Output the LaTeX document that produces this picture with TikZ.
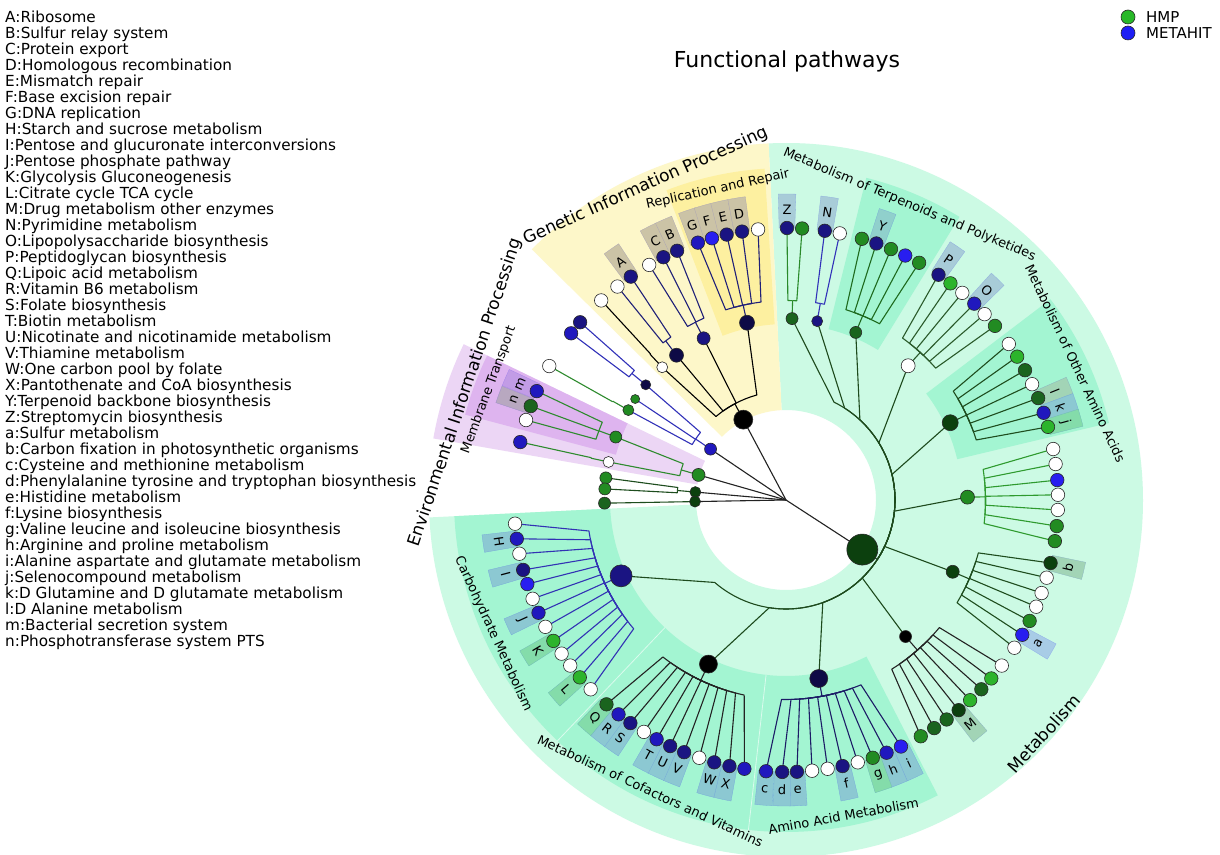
\documentclass[tikz,border=0pt]{standalone}
\usepackage{fontspec}
\setmainfont{DejaVu Sans}
\definecolor{g1}{RGB}{44,180,44}
\definecolor{g2}{RGB}{34,139,34}
\definecolor{g3}{RGB}{26,100,30}
\definecolor{g4}{RGB}{12,64,14}
\definecolor{b1}{RGB}{40,30,240}
\definecolor{b2}{RGB}{32,24,190}
\definecolor{b3}{RGB}{26,20,130}
\definecolor{b4}{RGB}{14,10,70}
\definecolor{ndline}{RGB}{40,40,40}
\definecolor{cMet}{RGB}{204,250,228}
\definecolor{cSub}{RGB}{163,245,210}
\definecolor{cGIP}{RGB}{253,247,201}
\definecolor{cRR}{RGB}{253,240,160}
\definecolor{cEIP}{RGB}{236,214,245}
\definecolor{cMT}{RGB}{222,180,239}
\definecolor{bxG}{RGB}{203,195,166}
\definecolor{bxB}{RGB}{168,204,216}
\definecolor{bxBd}{RGB}{140,200,210}
\definecolor{bxGr}{RGB}{132,220,170}
\definecolor{bxDg}{RGB}{162,212,182}
\definecolor{bxM}{RGB}{194,156,230}
\definecolor{bxN}{RGB}{184,168,192}
\definecolor{bxY}{RGB}{144,208,204}
\definecolor{bxA}{RGB}{168,204,230}
\definecolor{lRoot}{RGB}{35,35,35}
\definecolor{lNavy}{RGB}{32,32,120}
\definecolor{lB1}{RGB}{50,50,185}
\definecolor{lEIP}{RGB}{46,139,46}
\definecolor{lDG}{RGB}{30,77,30}
\definecolor{lMet}{RGB}{29,74,29}
\definecolor{lZp}{RGB}{42,138,42}
\definecolor{lYp}{RGB}{30,106,30}
\definecolor{lWp}{RGB}{42,90,42}
\definecolor{lG7}{RGB}{46,154,46}
\definecolor{lAA}{RGB}{28,28,102}
\definecolor{lCarb}{RGB}{50,50,180}
\definecolor{hmp}{RGB}{40,184,40}
\definecolor{metahit}{RGB}{30,30,245}
\newcommand\subf{\fontsize{13}{13}\selectfont}
\newcommand\clsf{\fontsize{17}{17}\selectfont}
\newcommand\lblf{\fontsize{13}{13}\selectfont}
\newcommand\sect[5]{\fill[#1] (#2:#4) arc[start angle=#2,end angle=#3,radius=#4] -- (#3:#5) arc[start angle=#3,end angle=#2,radius=#5] -- cycle;}
\newcommand\brs[5]{%
  \pgfmathsetmacro\rbb{#3+18}%
  \draw[br,#1] (#2:#3) -- (#2:\rbb);%
  \foreach \ca in {#5}{%
    \pgfmathsetmacro\cb{#2+0.8*(\ca-(#2))}%
    \draw[br,#1] (#2:\rbb) arc[start angle=#2, end angle=\cb, radius=\rbb] -- (\ca:#4);%
  }%
}
\newcommand\slab[5]{\pgfmathsetmacro\labrot{ifthenelse(#1>0,#1-90,#1+90)}%
  \node[font=#3, rotate=\labrot, inner sep=0pt] (#5) at (#1:#2) {#4};}
\begin{document}
\begin{tikzpicture}[x=1pt,y=1pt,
  nd/.style={circle, draw=ndline, line width=0.6pt, inner sep=0pt},
  br/.style={line width=1.1pt, line join=round}]
\useasboundingbox (0,0) rectangle (1220,854);
\fill[white] (0,0) rectangle (1220,854);
% left legend
\foreach \t [count=\i] in {A:Ribosome,B:Sulfur relay system,C:Protein export,D:Homologous recombination,E:Mismatch repair,F:Base excision repair,G:DNA replication,H:Starch and sucrose metabolism,I:Pentose and glucuronate interconversions,J:Pentose phosphate pathway,K:Glycolysis Gluconeogenesis,L:Citrate cycle TCA cycle,M:Drug metabolism other enzymes,N:Pyrimidine metabolism,O:Lipopolysaccharide biosynthesis,P:Peptidoglycan biosynthesis,Q:Lipoic acid metabolism,R:Vitamin B6 metabolism,S:Folate biosynthesis,T:Biotin metabolism,U:Nicotinate and nicotinamide metabolism,V:Thiamine metabolism,W:One carbon pool by folate,X:Pantothenate and CoA biosynthesis,Y:Terpenoid backbone biosynthesis,Z:Streptomycin biosynthesis,a:Sulfur metabolism,b:Carbon fixation in photosynthetic organisms,c:Cysteine and methionine metabolism,d:Phenylalanine tyrosine and tryptophan biosynthesis,e:Histidine metabolism,f:Lysine biosynthesis,g:Valine leucine and isoleucine biosynthesis,h:Arginine and proline metabolism,i:Alanine aspartate and glutamate metabolism,j:Selenocompound metabolism,k:D Glutamine and D glutamate metabolism,l:D Alanine metabolism,m:Bacterial secretion system,n:Phosphotransferase system PTS}
  {\node[anchor=base west, inner sep=0pt, font=\fontsize{15.25}{16}\selectfont] (leg\i) at (5,{831.6-16*(\i-1)}) {\t};}
% right legend
\node[nd, minimum size=14pt, fill=hmp] (lgh) at (1128,837) {};
\node[nd, minimum size=14pt, fill=metahit] (lgm) at (1128,821) {};
\node[anchor=base west, inner sep=0pt, font=\fontsize{15}{15}\selectfont] (lgth) at (1146,831.5) {HMP};
\node[anchor=base west, inner sep=0pt, font=\fontsize{15}{15}\selectfont] (lgtm) at (1146,815.5) {METAHIT};
% title
\node[anchor=base, inner sep=0pt, font=\fontsize{22}{22}\selectfont] (title) at (787,786) {Functional pathways};
\begin{scope}[shift={(786,354)}]
% class shading
\sect{cMet}{-177.2}{92.8}{90}{357}
\sect{cGIP}{92.8}{135.4}{90}{357}
\sect{cEIP}{154.2}{170.1}{90}{358}
% subclass shading
\sect{cRR}{93.7}{111.1}{176}{332}
\sect{cMT}{154.2}{165.1}{176}{332}
\sect{cSub}{58.5}{76}{176}{332}
\sect{cSub}{13.4}{37.2}{176}{332}
\sect{cSub}{-96.5}{-62.8}{176}{332}
\sect{cSub}{-133.5}{-96.5}{176}{332}
\sect{cSub}{-177.2}{-133.5}{176}{332}
\draw[white!60!cSub, line width=0.8pt] (-96.5:176) -- (-96.5:332) (-133.5:176) -- (-133.5:332);
% leaf label boxes
\foreach \a/\c in {124.8/bxG,116.8/bxG,113.6/bxG,108.9/bxG,105.8/bxG,102.6/bxG,99.3/bxG,156.4/bxM,159.8/bxN,89.8/bxB,81.8/bxB,70.6/bxY,55.9/bxB,46.2/bxB,22/bxDg,18.7/bxBd,15.6/bxGr,-13.4/bxDg,-29.7/bxA,-50.6/bxDg,-65/bxBd,-68.3/bxBd,-71.4/bxGr,-78/bxBd,-87.7/bxBd,-90.8/bxBd,-94.2/bxBd,-102/bxBd,-105.3/bxBd,-112/bxBd,-115.2/bxBd,-118.4/bxBd,-124.9/bxBd,-128/bxBd,-131.3/bxGr,-139.3/bxGr,-148.8/bxGr,-155.5/bxBd,-165.1/bxBd,-171.8/bxBd}
{\pgfmathsetmacro\aa{\a-1.65}\pgfmathsetmacro\ab{\a+1.65}
 \filldraw[fill=\c, draw=\c!85!blue, line width=0.3pt] (\aa:272) arc[start angle=\aa,end angle=\ab,radius=272] -- (\ab:306) arc[start angle=\ab,end angle=\aa,radius=306] -- cycle;}
% root lines
\coordinate (root) at (0,0);
\foreach \a in {118,146,164,175,181,-33} \draw[br,lRoot] (root) -- (\a:91);
% level 1 -> 2
\brs{black}{118}{91}{181.5}{133,127.1,117,102.4}
\brs{lB1}{146}{91}{181.5}{140.6,146.2,150.3}
\brs{lEIP}{164}{91}{181.5}{159.7,167.9}
\brs{lDG}{175}{91}{181.5}{173,176.5}
\brs{lDG}{181}{91}{181.5}{181}
\brs{lMet}{-33}{91}{181.5}{88.1,80.1,67.4,47.7,25.2,0.9,-23.3,-48.8,-79.6,-115.3,-155.3}
% level 2 -> 3
\brs{black}{133}{181.5}{272}{132.8}
\brs{lNavy}{127.1}{181.5}{272}{128.3,124.8}
\brs{lNavy}{117}{181.5}{272}{120.2,116.8,113.6}
\brs{lNavy}{102.4}{181.5}{272}{108.9,105.8,102.6,99.3,95.9}
\brs{lB1}{140.6}{181.5}{272}{139.2,142.2}
\brs{lEIP}{150.3}{181.5}{272}{150.5}
\brs{lEIP}{159.7}{181.5}{272}{156.4,159.8,162.9}
\brs{lEIP}{167.9}{181.5}{272}{167.7}
\brs{lZp}{88.1}{181.5}{272}{89.8,86.6}
\brs{lB1}{80.1}{181.5}{272}{81.8,78.6}
\brs{lYp}{67.4}{181.5}{272}{73.8,70.6,67.3,64.0,60.7}
\brs{lWp}{47.7}{181.5}{272}{55.9,52.8,49.6,46.2,43.1,39.8}
\brs{lDG}{25.2}{181.5}{272}{35,31.8,28.5,25.2,22,18.7,15.6}
\brs{lG7}{0.9}{181.5}{272}{10.8,7.6,4.2,1.1,-2.1,-5.5,-8.7}
\brs{lDG}{-23.3}{181.5}{272}{-13.4,-16.6,-20,-23.1,-26.4,-29.7,-32.9}
\brs{lRoot}{-48.8}{181.5}{272}{-37.5,-41,-44.1,-47.4,-50.6,-53.8,-57,-60.3}
\brs{lAA}{-79.6}{181.5}{272}{-65,-68.3,-71.4,-74.7,-78,-81.2,-84.5,-87.7,-90.8,-94.2}
\brs{lRoot}{-115.3}{181.5}{272}{-98.8,-102,-105.3,-108.6,-112,-115.2,-118.4,-121.5,-124.9,-128,-131.3}
\brs{lCarb}{-155.3}{181.5}{272}{-135.9,-139.3,-142.5,-145.6,-148.8,-152.2,-155.5,-158.7,-162,-165.1,-168.6,-171.8,-175}
% level 1 nodes
\foreach \a/\c/\d [count=\i] in {118/black/19,146/b2/12,164/g2/13,175/g4/11,181/g4/11,-33/g4/31}
  \node[nd, minimum size=\d pt, fill=\c] (n1-\i) at (\a:91) {};
% level 2 nodes
\foreach \a/\c/\d [count=\i] in {133/white/11,127.1/b4/14,117/b3/13,102.4/b4/15,140.6/b4/10,146.2/g2/9,150.3/g2/11,159.7/g2/12,167.9/white/11,173/g2/12,176.5/g2/12,181/g3/12,88.1/g3/12,80.1/b3/11,67.4/g3/12,47.7/white/14,25.2/g4/16,0.9/g2/14,-23.3/g4/13,-48.8/black/12,-79.6/b4/18,-115.3/black/18,-155.3/b3/22}
  \node[nd, minimum size=\d pt, fill=\c] (n2-\i) at (\a:181.5) {};
% leaves
\foreach \a/\c [count=\i] in {132.8/white,128.3/white,124.8/b3,120.2/white,116.8/b3,113.6/b3,108.9/b2,105.8/b1,102.6/b3,99.3/b3,95.9/white,139.2/b3,142.2/b2,150.5/white,156.4/b2,159.8/g3,162.9/white,167.7/b2,89.8/b3,86.6/g2,81.8/b3,78.6/white,73.8/g2,70.6/b3,67.3/g2,64.0/b1,60.7/g2,55.9/b3,52.8/g1,49.6/white,46.2/b2,43.1/white,39.8/g2,35/white,31.8/g1,28.5/g3,25.2/white,22/g3,18.7/b2,15.6/g1,10.8/white,7.6/white,4.2/b1,1.1/white,-2.1/white,-5.5/g2,-8.7/g2,-13.4/g4,-16.6/white,-20/white,-23.1/white,-26.4/g2,-29.7/b1,-32.9/white,-37.5/white,-41/g1,-44.1/g3,-47.4/g1,-50.6/g4,-53.8/g3,-57/g3,-60.3/g2,-65/b1,-68.3/b2,-71.4/g2,-74.7/white,-78/b3,-81.2/white,-84.5/white,-87.7/b3,-90.8/b3,-94.2/b2,-98.8/b2,-102/b3,-105.3/b3,-108.6/white,-112/b3,-115.2/b3,-118.4/b2,-121.5/white,-124.9/b3,-128/b2,-131.3/g3,-135.9/white,-139.3/g1,-142.5/white,-145.6/white,-148.8/g1,-152.2/white,-155.5/b2,-158.7/white,-162/b1,-165.1/b3,-168.6/white,-171.8/b2,-175/white}
  \node[nd, minimum size=13.5pt, fill=\c] (lf\i) at (\a:272) {};
% leaf labels
\foreach \a/\t in {124.8/A,116.8/C,113.6/B,108.9/G,105.8/F,102.6/E,99.3/D,156.4/m,159.8/n,89.8/Z,81.8/N,70.6/Y,55.9/P,46.2/O,22/l,18.7/k,15.6/j,-13.4/b,-29.7/a,-50.6/M,-65/i,-68.3/h,-71.4/g,-78/f,-87.7/e,-90.8/d,-94.2/c,-102/X,-105.3/W,-112/V,-115.2/U,-118.4/T,-124.9/S,-128/R,-131.3/Q,-139.3/L,-148.8/K,-155.5/J,-165.1/I,-171.8/H}
{\pgfmathsetmacro\rot{ifthenelse(\a>0,\a-90,\a+90)}
 \node[font=\lblf, rotate=\rot, inner sep=0pt] (lb\t) at (\a:290) {\t};}
% subclass labels
\slab{102.4}{318}{\subf}{Replication and Repair}{sRR}
\slab{159.7}{317}{\subf}{Membrane Transport}{sMT}
\slab{67.3}{320}{\subf}{Metabolism of Terpenoids and Polyketides}{sTP}
\slab{25.3}{320}{\subf}{Metabolism of Other Amino Acids}{sOA}
\slab{-155.4}{322}{\subf}{Carbohydrate Metabolism}{sCM}
\slab{-115}{321}{\subf}{Metabolism of Cofactors and Vitamins}{sCV}
\slab{-79.7}{321}{\subf}{Amino Acid Metabolism}{sAA}
% class labels
\slab{114.1}{344}{\clsf}{Genetic Information Processing}{cGI}
\slab{161.5}{338}{\clsf}{Environmental Information Processing}{cEI}
\slab{-42.2}{348}{\clsf}{Metabolism}{cME}
\end{scope}
\end{tikzpicture}
\end{document}
